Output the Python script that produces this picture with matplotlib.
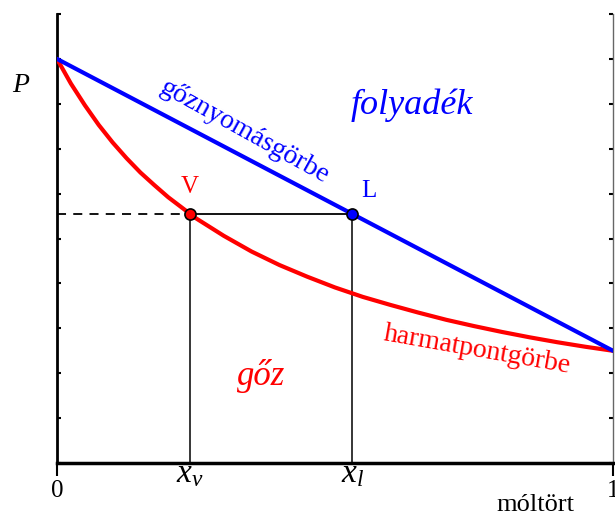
import numpy as np
import matplotlib
matplotlib.use('Agg')
from matplotlib import pyplot as plt

plt.rcParams['font.family'] = ['Liberation Serif', 'DejaVu Serif']
plt.rcParams['mathtext.fontset'] = 'custom'
plt.rcParams['mathtext.rm'] = 'Liberation Serif'
plt.rcParams['mathtext.it'] = 'Liberation Serif:italic'

# vapour pressure line (bubble) and dew point curve
liq_x = [0.0, 1.0]
liq_p = [0.9, 0.25]
dew_x = [0.0, 0.025, 0.05, 0.075, 0.1, 0.125, 0.15, 0.175, 0.2, 0.25, 0.3, 0.35, 0.4,
         0.45, 0.5, 0.55, 0.6, 0.65, 0.7, 0.75, 0.8, 0.85, 0.9, 0.95, 1.0]
dew_p = [0.9, 0.845, 0.797, 0.753, 0.714, 0.679, 0.647, 0.619, 0.592, 0.545, 0.506, 0.471, 0.441,
         0.415, 0.391, 0.370, 0.352, 0.335, 0.319, 0.305, 0.292, 0.280, 0.269, 0.259, 0.25]

# tie line at constant pressure
p_tie = 0.555
x_v = 0.239
x_l = 0.531

fig = plt.figure(figsize=(6.15, 5.17), dpi=100)
ax = fig.add_axes([0.0927, 0.1044, 0.904, 0.8685])

ax.plot(dew_x, dew_p, color='#ff0000', lw=3, zorder=3, solid_capstyle='round', solid_joinstyle='round')
ax.plot(liq_x, liq_p, color='#0000ff', lw=3, zorder=3, solid_capstyle='round')

ax.plot([0, x_v], [p_tie, p_tie], color='black', lw=1.3, ls=(0, (5, 4)), zorder=2)
ax.plot([x_v, x_l], [p_tie, p_tie], color='black', lw=1.3, zorder=2)
ax.plot([x_v, x_v], [0, p_tie], color='black', lw=1.1, zorder=2)
ax.plot([x_l, x_l], [0, p_tie], color='black', lw=1.1, zorder=2)

ax.plot(x_v, p_tie, 'o', ms=8, mfc='#ff0000', mec='black', mew=1.2, zorder=5)
ax.plot(x_l, p_tie, 'o', ms=8, mfc='#0000ff', mec='black', mew=1.2, zorder=5)

ax.set_xlim(0, 1)
ax.set_ylim(0, 1)

ax.spines['top'].set_visible(False)
ax.spines['left'].set_linewidth(2)
ax.spines['bottom'].set_linewidth(2.5)
ax.spines['right'].set_color('#666666')
ax.spines['right'].set_linewidth(1)

ax.set_yticks(np.arange(0, 1.01, 0.1))
ax.set_yticklabels([])
ax.tick_params(axis='y', direction='in', length=3, width=1.5, left=True, right=True)
ax.set_xticks([0, 1])
ax.set_xticklabels(['0', '1'], fontsize=18)
ax.tick_params(axis='x', direction='out', length=9, width=1.5, pad=3)

ax.text(-0.065, 0.84, 'P', transform=ax.transAxes, fontsize=20, style='italic', ha='center', va='center')
ax.text(0.86, -0.093, 'móltört', transform=ax.transAxes, fontsize=19, ha='center', va='center')

ax.text(x_v, -0.025, r'$x_v$', fontsize=24, ha='center', va='center')
ax.text(x_l, -0.025, r'$x_l$', fontsize=24, ha='center', va='center')

ax.text(x_v, 0.615, 'V', color='#ff0000', fontsize=18, ha='center', va='center')
ax.text(x_l + 0.03, 0.605, 'L', color='#0000ff', fontsize=18, ha='center', va='center')

ax.text(0.338, 0.737, 'gőznyomásgörbe', color='#0000ff', fontsize=20, rotation=-29,
        rotation_mode='anchor', ha='center', va='center')
ax.text(0.638, 0.797, 'folyadék', color='#0000ff', fontsize=26, style='italic', ha='center', va='center')
ax.text(0.755, 0.252, 'harmatpontgörbe', color='#ff0000', fontsize=20, rotation=-10,
        rotation_mode='anchor', ha='center', va='center')
ax.text(0.367, 0.194, 'gőz', color='#ff0000', fontsize=25, style='italic', ha='center', va='center')

plt.savefig('out.png', dpi=100)
